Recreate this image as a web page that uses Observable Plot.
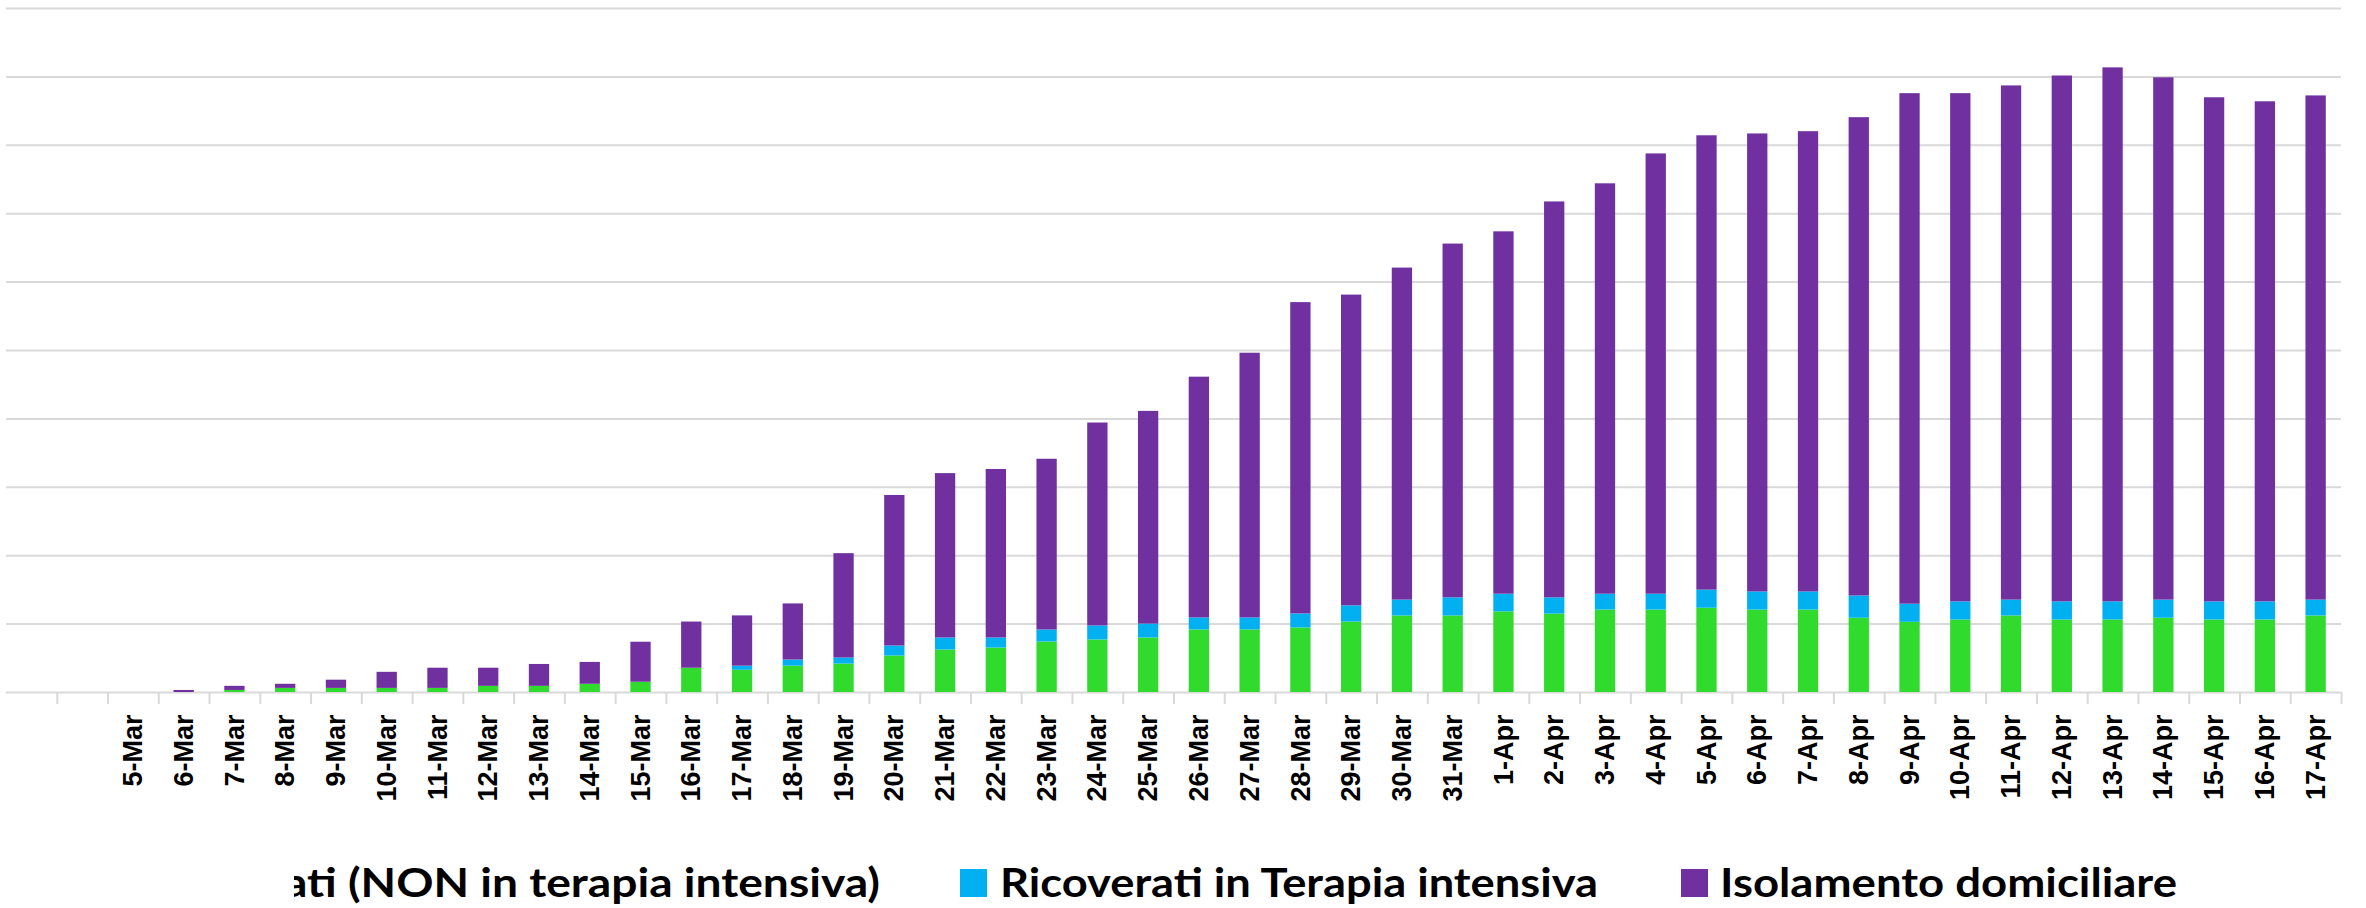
<!DOCTYPE html>
<html>
<head>
<meta charset="utf-8">
<script src="https://cdn.jsdelivr.net/npm/d3@7"></script>
<script src="https://cdn.jsdelivr.net/npm/@observablehq/plot@0.6"></script>
<style>
  html, body { margin: 0; padding: 0; background: #fff; }
  #chart svg, #legend svg { display: block; }
</style>
</head>
<body>
<div id="chart"></div>
<div id="legend"></div>
<script>
// ---- data ----
const leadingSlots = ["", " "]; // two empty category slots before 5-Mar
const dates = [
  "5-Mar","6-Mar","7-Mar","8-Mar","9-Mar","10-Mar","11-Mar","12-Mar","13-Mar","14-Mar",
  "15-Mar","16-Mar","17-Mar","18-Mar","19-Mar","20-Mar","21-Mar","22-Mar","23-Mar","24-Mar",
  "25-Mar","26-Mar","27-Mar","28-Mar","29-Mar","30-Mar","31-Mar","1-Apr","2-Apr","3-Apr",
  "4-Apr","5-Apr","6-Apr","7-Apr","8-Apr","9-Apr","10-Apr","11-Apr","12-Apr","13-Apr",
  "14-Apr","15-Apr","16-Apr","17-Apr"
];
const categories = leadingSlots.concat(dates);

const seriesNames = [
  "Ricoverati (NON in terapia intensiva)",
  "Ricoverati in Terapia intensiva",
  "Isolamento domiciliare"
];
const seriesColors = ["#31DB2E", "#00B0F0", "#7030A0"];

const ricoverati = [
  0, 0, 30, 60, 60, 60, 60, 90, 90, 120,
  150, 355, 325, 385, 416, 533, 621, 650, 738, 768,
  797, 914, 914, 944, 1030, 1119, 1119, 1179, 1146, 1205,
  1205, 1232, 1205, 1205, 1086, 1026, 1060, 1119, 1060, 1060,
  1086, 1060, 1060, 1119
];
const terapiaIntensiva = [
  0, 0, 0, 0, 0, 0, 0, 0, 0, 0,
  0, 0, 60, 90, 88, 147, 176, 147, 176, 205,
  203, 176, 176, 205, 237, 232, 265, 258, 238, 232,
  232, 265, 265, 265, 325, 265, 265, 232, 265, 265,
  265, 265, 265, 232
];
const isolamento = [
  0, 30, 60, 60, 120, 235, 295, 265, 320, 320,
  585, 675, 735, 820, 1526, 2200, 2403, 2463, 2496, 2967,
  3110, 3520, 3870, 4551, 4543, 4854, 5172, 5298, 5788, 6000,
  6437, 6642, 6696, 6729, 6993, 7464, 7430, 7517, 7688, 7807,
  7636, 7370, 7311, 7371
];
const gridTicks = d3.range(0, 10001, 1000);

// ---- layout ----
const W = 2366, H = 840;
const mL = 6, mR = 25, mT = 8, mB = 148;
const step = (W - mL - mR) / categories.length;

const seriesValues = [ricoverati, terapiaIntensiva, isolamento];
const rows = seriesNames.flatMap((s, k) =>
  dates.map((d, i) => ({date: d, series: s, value: seriesValues[k][i]}))
);

const chart = Plot.plot({
  width: W,
  height: H,
  marginLeft: mL,
  marginRight: mR,
  marginTop: mT,
  marginBottom: mB,
  style: {background: "#fff", overflow: "visible"},
  x: {domain: categories, paddingInner: 0.6, paddingOuter: 0.3, axis: null, label: null},
  y: {domain: [0, 10000], axis: null, label: null},
  color: {domain: seriesNames, range: seriesColors},
  marks: [
    Plot.gridY(gridTicks, {stroke: "#d9d9d9", strokeOpacity: 1, strokeWidth: 2}),
    Plot.axisX(categories, {
      tickSize: 12, dx: step / 2, tickFormat: () => "", label: null,
      stroke: "#d9d9d9", strokeOpacity: 1, strokeWidth: 2
    }),
    Plot.barY(rows, {x: "date", y: "value", fill: "series"}),
    Plot.axisX(categories, {
      tickSize: 0, tickPadding: 22, tickRotate: -90, label: null,
      fontSize: 27, fontWeight: "bold", fontFamily: "Liberation Sans, Arial, sans-serif",
      fill: "#000"
    })
  ]
});
document.getElementById("chart").appendChild(chart);

// ---- legend (below the chart, clipped on the left like the reference) ----
const LH = 908 - H;
const lsvg = d3.select("#legend").append("svg")
  .attr("width", W).attr("height", LH)
  .style("font-family", "Lato, 'Open Sans', sans-serif")
  .style("font-weight", "bold")
  .style("font-size", "40px");
lsvg.append("clipPath").attr("id", "legclip")
  .append("rect").attr("x", 294).attr("y", 0).attr("width", W - 294).attr("height", LH);
const lg = lsvg.append("g").attr("clip-path", "url(#legclip)");
const baseY = 57;
const items = [
  {sq: 60, tx: 880, len: 750, anchor: "end"},
  {sq: 960, tx: 1000, len: 598, anchor: "start"},
  {sq: 1681, tx: 1720, len: 457, anchor: "start"}
];
items.forEach((it, k) => {
  lg.append("rect").attr("x", it.sq).attr("y", baseY - 28)
    .attr("width", 27).attr("height", 28).attr("fill", seriesColors[k]);
  lg.append("text").attr("x", it.tx).attr("y", baseY)
    .attr("text-anchor", it.anchor)
    .attr("textLength", it.len).attr("lengthAdjust", "spacingAndGlyphs")
    .attr("fill", "#000")
    .text(seriesNames[k]);
});
</script>
</body>
</html>
